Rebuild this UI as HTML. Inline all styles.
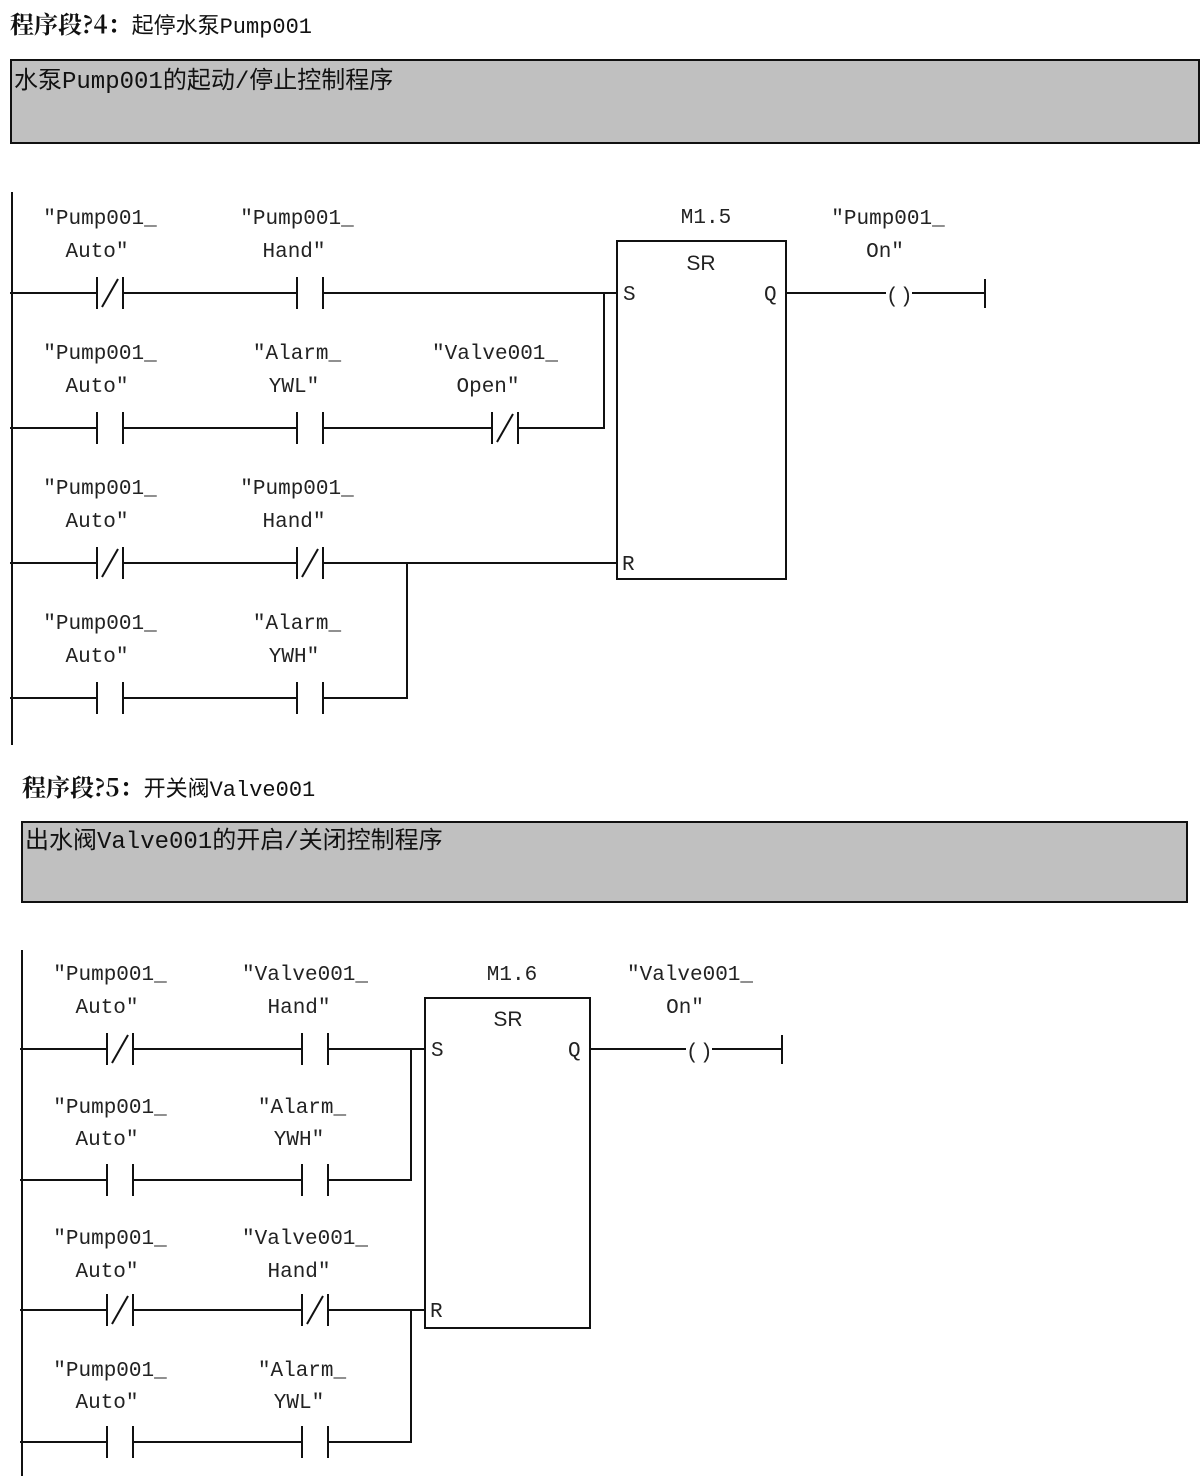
<!DOCTYPE html>
<html><head><meta charset="utf-8"><style>
html,body{margin:0;padding:0;background:#fff;}
svg{display:block;}
.t{font-family:"Liberation Mono","Noto Sans CJK SC",monospace;font-size:21px;fill:#222;}
.h{font-family:"Liberation Serif","Noto Serif CJK SC",serif;font-size:24px;fill:#111;}
.c{font-family:"Liberation Mono","Noto Sans CJK SC",monospace;font-size:24px;fill:#111;}
line,polyline,rect{stroke:#111;stroke-width:2;}
</style></head><body>
<svg width="1202" height="1476" viewBox="0 0 1202 1476" xmlns="http://www.w3.org/2000/svg">
<defs>
<g id="no"><line x1="0" y1="-16" x2="0" y2="16"/><line x1="26" y1="-16" x2="26" y2="16"/></g>
<g id="nc"><line x1="0" y1="-16" x2="0" y2="16"/><line x1="26" y1="-16" x2="26" y2="16"/><line x1="5" y1="14" x2="21" y2="-14"/></g>
</defs>
<!-- Network 4 -->
<text x="10" y="33" class="h"><tspan font-weight="bold" font-family="Noto Serif CJK SC, serif">程序段?4：</tspan><tspan font-family="Liberation Mono, Noto Sans CJK SC, monospace" font-size="22">起停水泵Pump001</tspan></text>
<rect x="11" y="60" width="1188" height="83" fill="#c0c0c0"/>
<text x="14" y="88" class="c">水泵Pump001的起动/停止控制程序</text>
<line x1="12" y1="192" x2="12" y2="745"/>
<g class="t" text-anchor="middle">
<text x="100" y="224">″Pump001_</text><text x="97" y="257">Auto″</text>
<text x="297" y="224">″Pump001_</text><text x="294" y="257">Hand″</text>
<text x="100" y="359">″Pump001_</text><text x="97" y="392">Auto″</text>
<text x="297" y="359">″Alarm_</text><text x="294" y="392">YWL″</text>
<text x="495" y="359">″Valve001_</text><text x="488" y="392">Open″</text>
<text x="100" y="494">″Pump001_</text><text x="97" y="527">Auto″</text>
<text x="297" y="494">″Pump001_</text><text x="294" y="527">Hand″</text>
<text x="100" y="629">″Pump001_</text><text x="97" y="662">Auto″</text>
<text x="297" y="629">″Alarm_</text><text x="294" y="662">YWH″</text>
<text x="706" y="223">M1.5</text>
<text x="888" y="224">″Pump001_</text><text x="885" y="257">On″</text>
</g>
<g fill="none">
<polyline points="10,293 97,293"/><line x1="123" y1="293" x2="297" y2="293"/><line x1="323" y1="293" x2="617" y2="293"/>
<use href="#nc" x="97" y="293"/><use href="#no" x="297" y="293"/>
<polyline points="10,428 97,428"/><line x1="123" y1="428" x2="297" y2="428"/><line x1="323" y1="428" x2="492" y2="428"/><polyline points="518,428 604,428 604,293"/>
<use href="#no" x="97" y="428"/><use href="#no" x="297" y="428"/><use href="#nc" x="492" y="428"/>
<polyline points="10,563 97,563"/><line x1="123" y1="563" x2="297" y2="563"/><line x1="323" y1="563" x2="617" y2="563"/>
<use href="#nc" x="97" y="563"/><use href="#nc" x="297" y="563"/>
<polyline points="10,698 97,698"/><line x1="123" y1="698" x2="297" y2="698"/><polyline points="323,698 407,698 407,563"/>
<use href="#no" x="97" y="698"/><use href="#no" x="297" y="698"/>
<rect x="617" y="241" width="169" height="338"/>
<line x1="786" y1="293" x2="886" y2="293"/><line x1="912" y1="293" x2="985" y2="293"/><line x1="985" y1="279" x2="985" y2="308"/>
</g>
<text x="886" y="302" class="t">(</text><text x="900" y="302" class="t">)</text>
<g class="t"><text x="701" y="270" text-anchor="middle" font-family="Liberation Sans, sans-serif">SR</text><text x="623" y="300">S</text><text x="764" y="300">Q</text><text x="622" y="570">R</text></g>

<!-- Network 5 -->
<text x="22" y="796" class="h"><tspan font-weight="bold" font-family="Noto Serif CJK SC, serif">程序段?5：</tspan><tspan font-family="Liberation Mono, Noto Sans CJK SC, monospace" font-size="22">开关阀Valve001</tspan></text>
<rect x="22" y="822" width="1165" height="80" fill="#c0c0c0"/>
<text x="25" y="848" class="c">出水阀Valve001的开启/关闭控制程序</text>
<line x1="22" y1="950" x2="22" y2="1476"/>
<g class="t" text-anchor="middle">
<text x="110" y="980">″Pump001_</text><text x="107" y="1013">Auto″</text>
<text x="305" y="980">″Valve001_</text><text x="299" y="1013">Hand″</text>
<text x="110" y="1113">″Pump001_</text><text x="107" y="1145">Auto″</text>
<text x="302" y="1113">″Alarm_</text><text x="299" y="1145">YWH″</text>
<text x="110" y="1244">″Pump001_</text><text x="107" y="1277">Auto″</text>
<text x="305" y="1244">″Valve001_</text><text x="299" y="1277">Hand″</text>
<text x="110" y="1376">″Pump001_</text><text x="107" y="1408">Auto″</text>
<text x="302" y="1376">″Alarm_</text><text x="299" y="1408">YWL″</text>
<text x="512" y="980">M1.6</text>
<text x="690" y="980">″Valve001_</text><text x="685" y="1013">On″</text>
</g>
<g fill="none">
<line x1="20" y1="1049" x2="107" y2="1049"/><line x1="133" y1="1049" x2="302" y2="1049"/><line x1="328" y1="1049" x2="425" y2="1049"/>
<use href="#nc" x="107" y="1049"/><use href="#no" x="302" y="1049"/>
<line x1="20" y1="1180" x2="107" y2="1180"/><line x1="133" y1="1180" x2="302" y2="1180"/><polyline points="328,1180 411,1180 411,1049"/>
<use href="#no" x="107" y="1180"/><use href="#no" x="302" y="1180"/>
<line x1="20" y1="1310" x2="107" y2="1310"/><line x1="133" y1="1310" x2="302" y2="1310"/><line x1="328" y1="1310" x2="425" y2="1310"/>
<use href="#nc" x="107" y="1310"/><use href="#nc" x="302" y="1310"/>
<line x1="20" y1="1442" x2="107" y2="1442"/><line x1="133" y1="1442" x2="302" y2="1442"/><polyline points="328,1442 411,1442 411,1310"/>
<use href="#no" x="107" y="1442"/><use href="#no" x="302" y="1442"/>
<rect x="425" y="998" width="165" height="330"/>
<line x1="590" y1="1049" x2="686" y2="1049"/><line x1="712" y1="1049" x2="782" y2="1049"/><line x1="782" y1="1035" x2="782" y2="1064"/>
</g>
<text x="686" y="1058" class="t">(</text><text x="700" y="1058" class="t">)</text>
<g class="t"><text x="508" y="1026" text-anchor="middle" font-family="Liberation Sans, sans-serif">SR</text><text x="431" y="1056">S</text><text x="568" y="1056">Q</text><text x="430" y="1317">R</text></g>
</svg>
</body></html>
